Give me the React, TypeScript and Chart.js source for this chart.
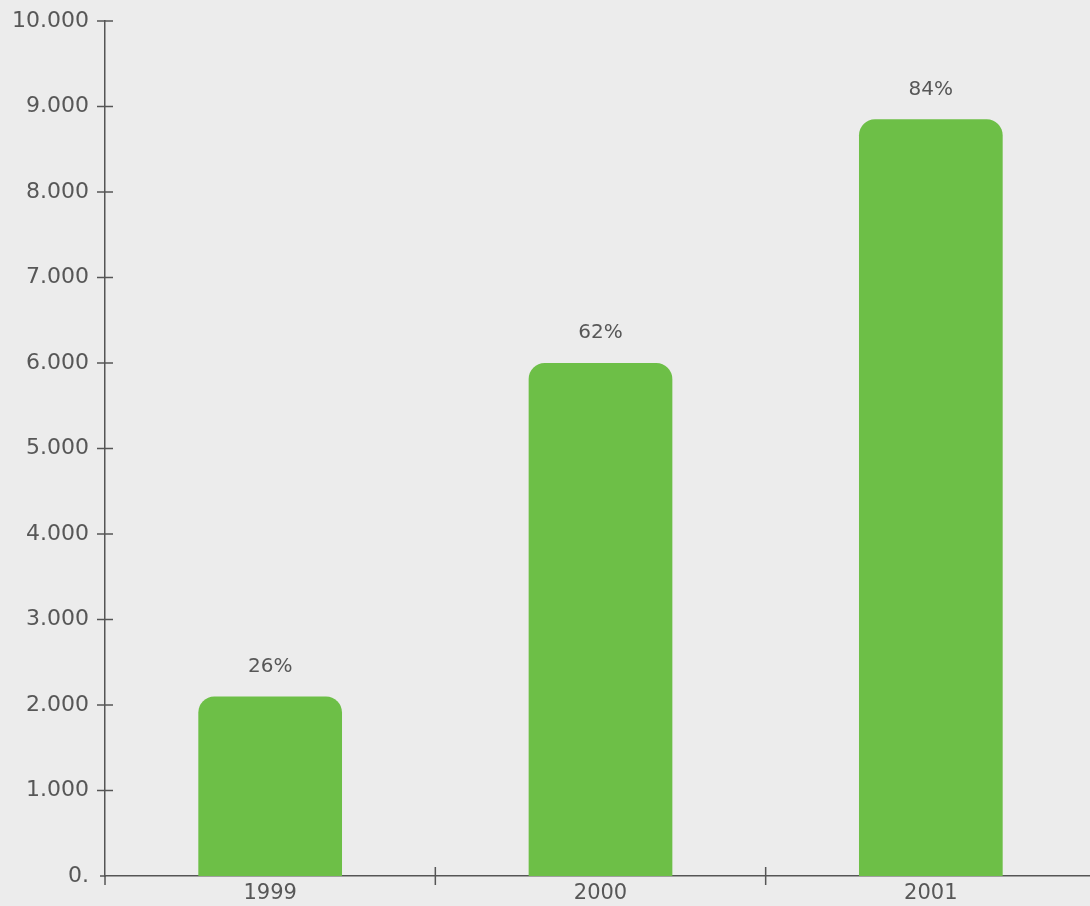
import React, { useEffect, useRef } from "react";
import { Chart, registerables } from "chart.js";

Chart.register(...registerables);

const categories = ["1999", "2000", "2001"];
const values = [2100, 6000, 8850];
const percentLabels = ["26%", "62%", "84%"];
const yTickLabels = ["0.", "1.000", "2.000", "3.000", "4.000", "5.000", "6.000", "7.000", "8.000", "9.000", "10.000"];

const AXIS_COLOR = "#555555";
const TEXT_COLOR = "#575757";
const BAR_COLOR = "#6dbf47";
const FONT = "'DejaVu Sans', sans-serif";

const crossTicksPlugin = {
  id: "crossTicks",
  afterDraw(chart: any) {
    const { ctx, chartArea, scales } = chart;
    const x = scales.x;
    const y = scales.y;
    ctx.save();
    ctx.strokeStyle = AXIS_COLOR;
    ctx.lineWidth = 1.5;
    ctx.beginPath();
    y.ticks.forEach((t: any) => {
      if (t.value === 0) return;
      const py = y.getPixelForValue(t.value);
      ctx.moveTo(chartArea.left - 8, py);
      ctx.lineTo(chartArea.left + 8, py);
    });
    ctx.moveTo(chartArea.left, chartArea.bottom);
    ctx.lineTo(chartArea.left, chartArea.bottom + 9);
    ctx.moveTo(chartArea.left - 5, chartArea.bottom);
    ctx.lineTo(chartArea.left, chartArea.bottom);
    for (let i = 1; i < categories.length; i++) {
      const px = (x.getPixelForValue(i - 1) + x.getPixelForValue(i)) / 2;
      ctx.moveTo(px, chartArea.bottom - 9);
      ctx.lineTo(px, chartArea.bottom + 9);
    }
    ctx.stroke();

    const meta = chart.getDatasetMeta(0);
    ctx.fillStyle = TEXT_COLOR;
    ctx.font = `20px ${FONT}`;
    ctx.textAlign = "center";
    ctx.textBaseline = "middle";
    meta.data.forEach((bar: any, i: number) => {
      ctx.fillText(percentLabels[i], bar.x, bar.y - 30);
    });
    ctx.restore();
  },
};

export default function App() {
  const ref = useRef<HTMLCanvasElement>(null);

  useEffect(() => {
    if (!ref.current) return;
    const chart = new Chart(ref.current, {
      type: "bar",
      data: {
        labels: categories,
        datasets: [
          {
            data: values,
            backgroundColor: BAR_COLOR,
            borderRadius: { topLeft: 16, topRight: 16, bottomLeft: 0, bottomRight: 0 },
            borderSkipped: false,
            barPercentage: 0.87,
            categoryPercentage: 0.5,
          },
        ],
      },
      options: {
        responsive: false,
        animation: false,
        layout: { padding: { top: 21, right: 0, left: 0, bottom: 0 } },
        plugins: {
          legend: { display: false },
          tooltip: { enabled: false },
        },
        scales: {
          x: {
            grid: { display: false, drawTicks: false },
            border: { display: true, color: AXIS_COLOR, width: 1.5 },
            ticks: {
              color: TEXT_COLOR,
              font: { family: FONT, size: 21 },
              padding: 5,
            },
            afterFit: (scale: any) => {
              scale.height = 30;
              scale.paddingLeft = 0;
              scale.paddingRight = 0;
            },
          },
          y: {
            min: 0,
            max: 10000,
            grid: { display: false, drawTicks: false },
            border: { display: true, color: AXIS_COLOR, width: 1.5 },
            ticks: {
              stepSize: 1000,
              color: TEXT_COLOR,
              font: { family: FONT, size: 22 },
              padding: 16,
              callback: (_v: any, i: number) => yTickLabels[i],
            },
            afterFit: (scale: any) => {
              scale.width = 105;
              scale.paddingTop = 0;
              scale.paddingBottom = 0;
            },
          },
        },
      },
      plugins: [crossTicksPlugin],
    });
    return () => chart.destroy();
  }, []);

  return (
    <div
      style={{
        position: "absolute",
        left: 0,
        top: 0,
        width: 1090,
        height: 906,
        overflow: "hidden",
        background: "#ececec",
      }}
    >
      <canvas ref={ref} width={1096} height={906} style={{ display: "block" }} />
    </div>
  );
}
